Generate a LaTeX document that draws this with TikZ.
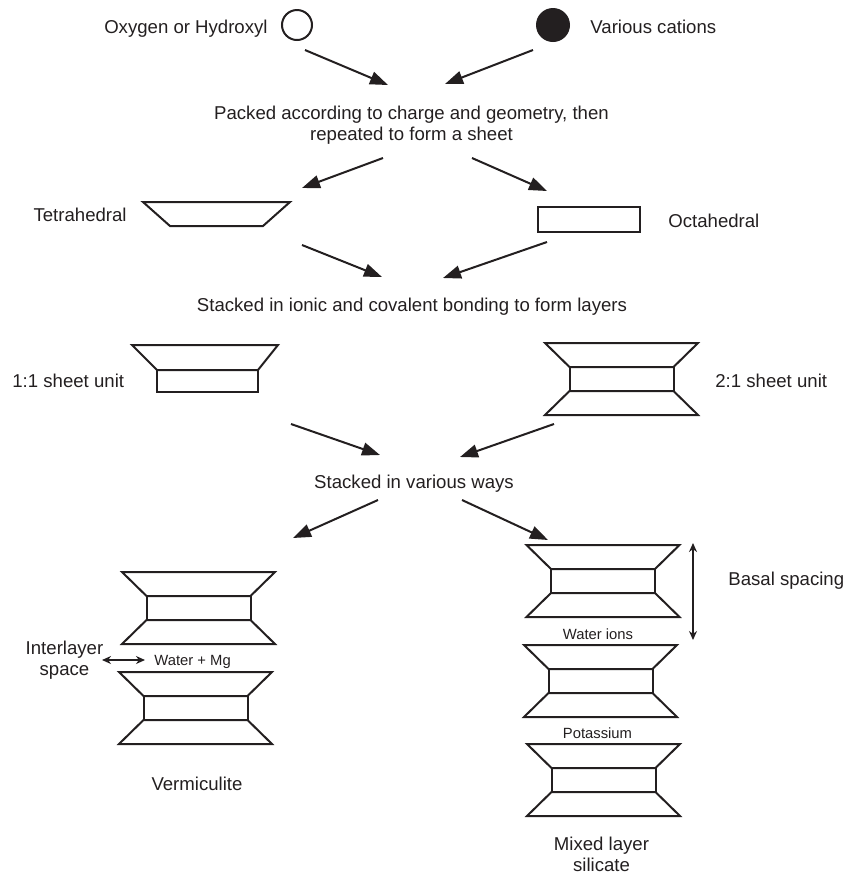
\documentclass[tikz,border=0pt]{standalone}
\usepackage{fontspec}
\setmainfont{Liberation Sans}
\usetikzlibrary{arrows.meta}

\definecolor{ink}{RGB}{35,31,32}

\tikzset{
  txt/.style={inner sep=0pt, font=\fontsize{9.3}{10.5}\selectfont},
  lbl/.style={inner sep=0pt, font=\fontsize{7.4}{9}\selectfont},
  arr/.style={line width=1pt, -{Triangle[length=9pt,width=6.5pt]}},
  dbl/.style={line width=0.75pt, {Stealth[length=4.5pt,width=4pt]}-{Stealth[length=4.5pt,width=4pt]}},
  sheet/.style={line width=1pt},
  pics/unit/.style={code={
    \draw[sheet] (-76.5,0) -- (76.5,0) -- (52,24) -- (-52,24) -- cycle;
    \draw[sheet] (-52,24) rectangle (52,48);
    \draw[sheet] (-52,48) -- (52,48) -- (76.5,72) -- (-76.5,72) -- cycle;
  }}
}

\begin{document}
\begin{tikzpicture}[x=0.5pt, y=-0.5pt, color=ink]
    \useasboundingbox (0,0) rectangle (844,875);

    % the two kinds of ions
    \node[circle, draw, line width=1pt, minimum size=15pt, inner sep=0pt] (oxc) at (297,25) {};
    \node[txt, anchor=base east] (oxt) at (268,33) {Oxygen or Hydroxyl};
    \node[circle, fill, minimum size=17pt, inner sep=0pt] (catc) at (553,25) {};
    \node[txt, anchor=base west] (catt) at (590,33) {Various cations};

    \node[txt, anchor=base, align=center] (packed) at (411.5,140) {Packed according to charge and geometry, then\\repeated to form a sheet};

    % single sheets
    \draw[sheet] (143,202) -- (290,202) -- (263,226) -- (170,226) -- cycle;
    \node[txt, anchor=base east] (tett) at (127,221) {Tetrahedral};
    \draw[sheet] (538,207) rectangle (640,232);
    \node[txt, anchor=base west] (octt) at (668,227) {Octahedral};

    \node[txt, anchor=base] (ionic) at (412,311) {Stacked in ionic and covalent bonding to form layers};

    % 1:1 and 2:1
    \draw[sheet] (132,345) -- (278,345) -- (258,370) -- (157,370) -- cycle;
    \draw[sheet] (157,370) rectangle (258,392);
    \node[txt, anchor=base west] (one) at (12,387) {1:1 sheet unit};
    \pic (u21) at (621.5,343) {unit};
    \node[txt, anchor=base west] (two) at (715,387) {2:1 sheet unit};

    \node[txt, anchor=base] (various) at (414,488) {Stacked in various ways};

    % vermiculite
    \pic (v1) at (198.5,572) {unit};
    \pic (v2) at (195.5,672) {unit};
    \node[txt, anchor=base, align=center] (inter) at (64.5,675) {Interlayer\\space};
    \node[lbl, anchor=base west] (wmg) at (154,665) {Water + Mg};
    \node[txt, anchor=base] (verm) at (197,790) {Vermiculite};

    % mixed layer
    \pic (m1) at (603,545) {unit};
    \node[lbl, anchor=base] (wions) at (598,639) {Water ions};
    \pic (m2) at (600.5,645) {unit};
    \node[lbl, anchor=base] (pot) at (597.5,738) {Potassium};
    \pic (m3) at (603.5,744) {unit};
    \node[txt, anchor=base, align=center] (mixed) at (601.5,871) {Mixed layer\\silicate};
    \node[txt, anchor=base west] (basal) at (728,585) {Basal spacing};

    % arrow ends
    \coordinate (a1) at (305,50);   \coordinate (b1) at (388,85);
    \coordinate (a2) at (533,50);   \coordinate (b2) at (445,84);
    \coordinate (a3) at (383,158);  \coordinate (b3) at (302,188);
    \coordinate (a4) at (472,158);  \coordinate (b4) at (547,191);
    \coordinate (a5) at (302,245);  \coordinate (b5) at (382,277);
    \coordinate (a6) at (547,242);  \coordinate (b6) at (443,278);
    \coordinate (a7) at (291,424);  \coordinate (b7) at (380,455);
    \coordinate (a8) at (554,424);  \coordinate (b8) at (460,457);
    \coordinate (a9) at (378,500);  \coordinate (b9) at (293,538);
    \coordinate (a10) at (462,500); \coordinate (b10) at (548,540);
    \foreach \i in {1,...,10}
        \draw[arr] (a\i) -- (b\i);

    \coordinate (il1) at (102,660); \coordinate (il2) at (145,660);
    \draw[dbl] (il1) -- (il2);
    \coordinate (bs1) at (693,543); \coordinate (bs2) at (693,640);
    \draw[dbl] (bs1) -- (bs2);

\end{tikzpicture}
\end{document}
